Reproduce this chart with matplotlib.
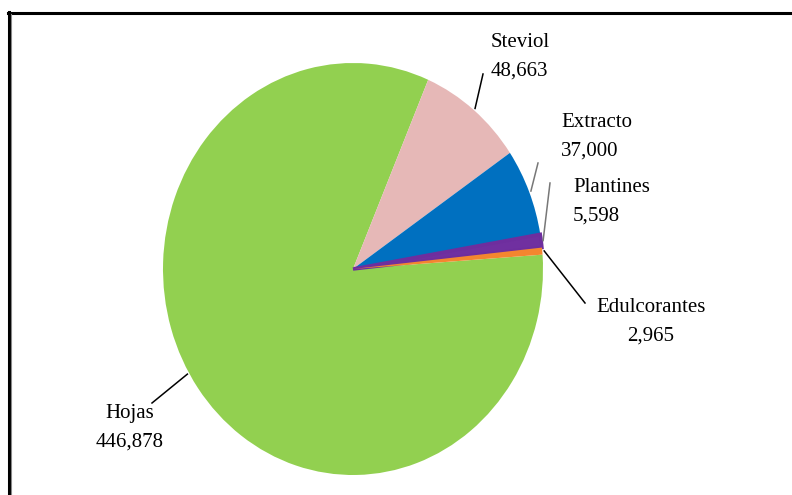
import numpy as np
import matplotlib.pyplot as plt
from matplotlib.lines import Line2D

productos = ['Hojas', 'Steviol', 'Extracto', 'Plantines', 'Edulcorantes']
valores = [446878, 48663, 37000, 5598, 2965]
colores = ['#92D050', '#E6B8B7', '#0070C0', '#7030A0', '#F4862F']

W, H = 792, 495
# centro y radios del pastel en pixeles (ligeramente eliptico)
CX, CY, RX, RY = 353, 269, 190, 206


def px(x, y):
    return (x - CX) / RX, (CY - y) / RY


plt.rcParams['font.family'] = ['Liberation Serif', 'DejaVu Serif']

fig = plt.figure(figsize=(W / 100, H / 100), dpi=100)
ax = fig.add_axes([0, 0, 1, 1])
wedges, _ = ax.pie(valores, colors=colores, startangle=4, counterclock=False,
                   wedgeprops=dict(linewidth=0))
# la rebanada de plantines lleva un borde grueso para que se vea
wedges[3].set_edgecolor('#6E2E9E')
wedges[3].set_linewidth(2.5)
ax.set_aspect('auto')
ax.set_xlim(-CX / RX, (W - CX) / RX)
ax.set_ylim((CY - H) / RY, CY / RY)
ax.axis('off')

# posicion del texto (px), alineacion, final de la linea guia (px),
# color de la linea, desplazamiento del punto de anclaje (grados)
rotulos = {
    'Hojas': ((130, 428), 'center', (152, 403), 'black', -5),
    'Steviol': ((491, 57), 'left', (483, 74), 'black', 0),
    'Extracto': ((561, 137), 'left', (538, 163), '#777777', 0),
    'Plantines': ((573, 202), 'left', (550, 183), '#777777', 0),
    'Edulcorantes': ((651, 322), 'center', (585, 303), 'black', 0),
}

for w, nombre, v in zip(wedges, productos, valores):
    (tx, ty), ha, (lx, ly), lc, da = rotulos[nombre]
    ang = np.deg2rad((w.theta1 + w.theta2) / 2 + da)
    x0, y0 = np.cos(ang) * 1.01, np.sin(ang) * 1.01
    x1, y1 = px(lx, ly)
    ax.plot([x0, x1], [y0, y1], color=lc, lw=1.1, clip_on=False)
    xt, yt = px(tx, ty)
    ax.text(xt, yt, f'{nombre}\n{v:,}', ha=ha, va='center', fontsize=15,
            linespacing=1.65, multialignment=ha)

# marco de la imagen
fig.add_artist(Line2D([8 / W, 1], [1 - 13 / H, 1 - 13 / H], color='black', lw=2.2,
                      transform=fig.transFigure))
fig.add_artist(Line2D([8.5 / W, 8.5 / W], [0, 1 - 12 / H], color='black', lw=2.2,
                      transform=fig.transFigure))
fig.add_artist(Line2D([11 / W, 11 / W], [0, 1 - 14 / H], color='#888888', lw=0.8,
                      transform=fig.transFigure))

fig.savefig('out.png', dpi=100)
